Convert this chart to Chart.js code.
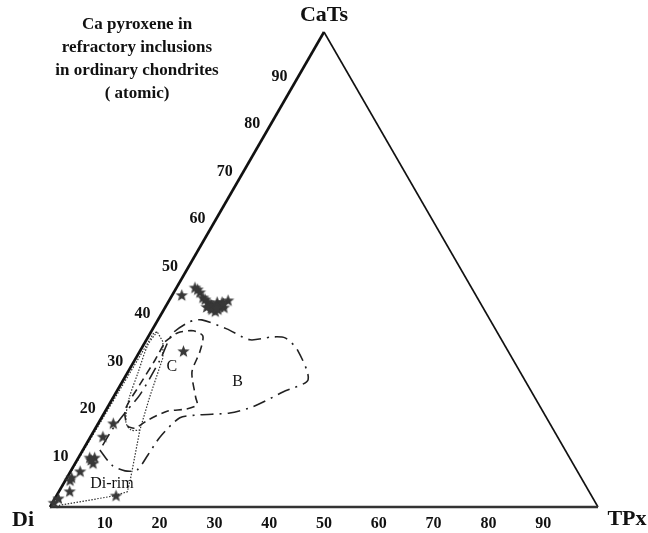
<!DOCTYPE html>
<html><head><meta charset="utf-8">
<script src="https://cdn.jsdelivr.net/npm/chart.js@4"></script>
<style>html,body{margin:0;padding:0;background:#fff}#wrap{width:648px;height:533px;position:relative}</style>
</head><body><div id="wrap"><canvas id="c"></canvas></div>
<script>
// ---- data (ternary, atomic %: [TPx, CaTs]; Di = remainder) ----
const tickValues = [10, 20, 30, 40, 50, 60, 70, 80, 90];
const vertexNames = ['Di', 'TPx', 'CaTs'];
const titleLines = ['Ca pyroxene in', 'refractory inclusions', 'in ordinary chondrites', '( atomic)'];

const starTPx  = [1.8, 3.4, 4.1, 4.8, 5.9, 6.5, 7.3, 7.9, 8.7, 8.8, 9.0, 9.6, 9.9, 9.9, 9.9, 10.8, 10.8,
                  8.3, 9.3, 10.3, 8.5, 9.5, 7.6, 8.0,
                  2.8, 2.3, 2.1, 3.3, 3.0, 1.8, 0.9, 0.9, 2.0, 0.7, 0.3, 10.9, 2.6];
const starCaTs = [44.5, 46.1, 45.7, 45.1, 44.0, 43.6, 43.0, 42.6, 42.1, 41.5, 43.0, 41.1, 43.0, 41.5, 42.1, 41.9, 43.4,
                  42.4, 42.5, 42.7, 41.8, 41.8, 42.0, 32.7,
                  17.5, 14.7, 10.3, 9.1, 10.3, 7.4, 5.5, 6.1, 3.2, 1.7, 0.8, 2.3, 9.8];

const fieldB = [[3.1,12.0],[6.9,8.8],[9.9,7.6],[12.0,7.8],[12.4,11.0],[12.7,14.7],[14.3,18.8],[17.7,19.4],
                [22.9,19.8],[26.5,21.1],[30.4,24.2],[33.7,26.8],[28.6,33.1],[25.1,35.6],[22.6,35.8],[18.9,35.2],
                [13.5,37.5],[8.0,39.4],[6.0,39.0],[4.1,36.5],[4.6,31.0],[4.6,23.6],[3.9,20.4],[3.2,16.2],[3.1,12.0]];
const fieldC = [[3.6,34.8],[5.0,36.7],[7.6,37.1],[9.9,36.0],[11.0,32.7],[11.7,28.4],[15.1,23.0],[16.1,21.5],
                [14.5,20.6],[11.4,20.2],[8.7,18.3],[7.2,16.6],[5.6,17.1],[3.5,20.4],[3.5,25.7],[3.7,31.0],[3.6,34.8]];
const fieldDiRim = [[0,0],[0.6,36.5],[1.1,36.9],[3.2,34.8],[4.9,31.4],[6.6,23.2],[8.3,16.2],[10.2,10.5],
                    [11.8,5.7],[12.5,3.2],[10.3,2.3],[0,0]];
const fieldLoop = [[1.1,36.9],[0.8,34.1],[1.9,28.4],[3.1,22.5],[4.9,17.9],[6.7,16.2],[8.3,16.2]];
const fieldLabels = [['C', 7.5, 29.5], ['B', 21.1, 26.3], ['Di-rim', 8.9, 4.8]];

// ---- helpers ----
const H = Math.sqrt(3) / 2;
function tern(t, c) { return { x: t + c / 2, y: c * H }; }
const pts = arr => arr.map(p => tern(p[0], p[1]));

// filled 5-point star marker
function makeStar(r, color) {
  const s = document.createElement('canvas');
  const size = Math.ceil(r * 2 + 2);
  s.width = size; s.height = size;
  const g = s.getContext('2d');
  g.translate(size / 2, size / 2);
  g.beginPath();
  for (let i = 0; i < 10; i++) {
    const rr = i % 2 === 0 ? r : r * 0.42;
    const a = -Math.PI / 2 + i * Math.PI / 5;
    g.lineTo(rr * Math.cos(a), rr * Math.sin(a));
  }
  g.closePath();
  g.fillStyle = color; g.fill();
  return s;
}
const starImg = makeStar(6.5, '#383838');

const lineDS = (data, width, color, dash, tension) => ({
  type: 'line', data, showLine: true, fill: false, borderColor: color, borderWidth: width,
  borderDash: dash || [], pointRadius: 0, tension: tension || 0, clip: false, order: 2
});

const textPlugin = {
  id: 'ternText',
  afterDatasetsDraw(chart) {
    const { ctx, scales: { x, y } } = chart;
    const px = (t, c) => { const p = tern(t, c); return [x.getPixelForValue(p.x), y.getPixelForValue(p.y)]; };
    ctx.save();
    ctx.fillStyle = '#111';
    ctx.font = 'bold 16px "Liberation Serif", "Times New Roman", serif';
    ctx.textBaseline = 'middle';
    // bottom tick labels (TPx)
    ctx.textAlign = 'center';
    tickValues.forEach(v => { const [a, b] = px(v, 0); ctx.fillText(String(v), a, b + 17); });
    // left edge tick labels (CaTs)
    ctx.textAlign = 'right';
    tickValues.forEach(v => { const [a, b] = px(0, v); ctx.fillText(String(v), a - 9, b - 3); });
    // vertex names
    ctx.font = 'bold 22px "Liberation Serif", "Times New Roman", serif';
    ctx.textAlign = 'center';
    let [a, b] = px(0, 0); ctx.fillText(vertexNames[0], a - 27, b + 13);
    [a, b] = px(100, 0); ctx.fillText(vertexNames[1], a + 29, b + 12);
    [a, b] = px(0, 100); ctx.fillText(vertexNames[2], a, b - 17);
    // title
    ctx.font = 'bold 17px "Liberation Serif", "Times New Roman", serif';
    titleLines.forEach((s, i) => ctx.fillText(s, 137, 25 + i * 23));
    // field labels
    ctx.font = '16px "Liberation Serif", "Times New Roman", serif';
    fieldLabels.forEach(l => { const [p, q] = px(l[1], l[2]); ctx.fillText(l[0], p, q); });
    ctx.restore();
  }
};

new Chart(document.getElementById('c'), {
  type: 'scatter',
  data: {
    datasets: [
      lineDS(pts([[0, 0], [0, 100]]), 2.6, '#111'),
      lineDS(pts([[0, 0], [100, 0]]), 2.6, '#333'),
      lineDS(pts([[100, 0], [0, 100]]), 1.6, '#111'),
      lineDS(pts(fieldB), 1.6, '#222', [13, 6, 2, 6], 0.25),
      lineDS(pts(fieldC), 1.6, '#222', [8, 5], 0.25),
      lineDS(pts(fieldDiRim), 1.2, '#333', [1.5, 1.5], 0),
      lineDS(pts(fieldLoop), 1.2, '#333', [1.5, 1.5], 0.3),
      { type: 'scatter', data: starTPx.map((t, i) => tern(t, starCaTs[i])), pointStyle: starImg,
        pointRadius: 6, clip: false, order: 1 }
    ]
  },
  options: {
    responsive: true, maintainAspectRatio: false, animation: false,
    layout: { padding: { left: 50, right: 50, top: 32, bottom: 26 } },
    plugins: { legend: { display: false }, tooltip: { enabled: false } },
    scales: {
      x: { type: 'linear', min: 0, max: 100, display: false },
      y: { type: 'linear', min: 0, max: 100 * H, display: false }
    }
  },
  plugins: [textPlugin]
});
</script>
</body></html>
